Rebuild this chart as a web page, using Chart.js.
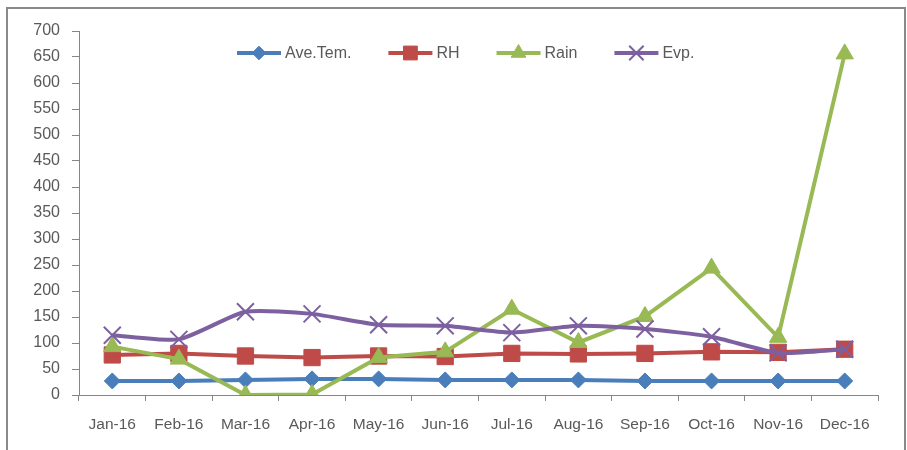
<!DOCTYPE html>
<html>
<head>
<meta charset="utf-8">
<script src="https://cdn.jsdelivr.net/npm/chart.js@4.4.1/dist/chart.umd.min.js"></script>
<style>
html,body{margin:0;padding:0;background:#fff;}
#wrap{position:relative;width:907px;height:450px;}
</style>
</head>
<body>
<div id="wrap"><canvas id="c" width="907" height="450"></canvas></div>
<script>
const categories = ['Jan-16','Feb-16','Mar-16','Apr-16','May-16','Jun-16','Jul-16','Aug-16','Sep-16','Oct-16','Nov-16','Dec-16'];
const aveTem = [27, 27, 29, 31, 31, 29, 29, 29, 27, 27, 27, 27];
const rh     = [77, 80, 75, 72, 75, 74, 80, 79, 80, 83, 82, 88];
const rain   = [93, 69, 0, 1, 72, 83, 165, 101, 151, 244, 111, 656];
const evp    = [115, 107, 160, 156, 135, 133, 120, 133, 127, 112, 81, 88];
const yTicks = [0,50,100,150,200,250,300,350,400,450,500,550,600,650,700];

const TXT = '#595959';
const AXIS = '#868686';
const FONT = 'Liberation Sans';

const series = [
  {label:'Ave.Tem.', data:aveTem, color:'#4A7EBB', style:'rectRot', radius:8, order:4, tension:0, pbw:1},
  {label:'RH', data:rh, color:'#BE4B48', style:'rect', radius:11.5, order:3, tension:0, pbw:1},
  {label:'Rain', data:rain, color:'#98B954', style:'triangle', radius:10, order:2, tension:0, pbw:1},
  {label:'Evp.', data:evp, color:'#7D60A0', style:'crossRot', radius:12, order:1, tension:0.2, pbw:2}
];

const frame = {
  id:'frame',
  beforeDraw(chart){
    const ctx = chart.ctx;
    ctx.save();
    ctx.fillStyle = '#fff';
    ctx.fillRect(0,0,chart.width,chart.height);
    ctx.strokeStyle = '#8a8a8a';
    ctx.lineWidth = 2;
    ctx.strokeRect(7, 8, 898, 470);
    ctx.restore();
  }
};

const drawPoint = Chart.helpers.drawPoint;

const legendPlugin = {
  id:'customLegend',
  afterDraw(chart){
    const ctx = chart.ctx;
    const y = 53;
    let x = 237;
    const lineLen = 44, gapText = 4, gapItem = 37;
    chart.data.datasets.forEach(ds => {
      ctx.save();
      ctx.strokeStyle = ds.borderColor;
      ctx.lineWidth = 4;
      ctx.lineCap = 'butt';
      ctx.beginPath();
      ctx.moveTo(x, y);
      ctx.lineTo(x + lineLen, y);
      ctx.stroke();
      ctx.fillStyle = ds.pointBackgroundColor;
      ctx.strokeStyle = ds.pointBorderColor;
      ctx.lineWidth = ds.pointBorderWidth;
      drawPoint(ctx, {pointStyle: ds.pointStyle, radius: ds.pointRadius * 0.85, rotation: 0, borderWidth: ds.pointBorderWidth}, x + lineLen/2, y);
      ctx.font = '16px "' + FONT + '"';
      ctx.textBaseline = 'middle';
      ctx.textAlign = 'left';
      ctx.fillStyle = TXT;
      ctx.fillText(ds.label, x + lineLen + gapText, y + 1);
      x += lineLen + gapText + ctx.measureText(ds.label).width + gapItem;
      ctx.restore();
    });
  }
};

const datasets = series.map(s => ({
  label: s.label,
  data: s.data,
  borderColor: s.color,
  backgroundColor: s.color,
  pointBackgroundColor: s.color,
  pointBorderColor: s.color,
  pointBorderWidth: s.pbw,
  pointStyle: s.style,
  pointRadius: s.radius,
  pointHoverRadius: s.radius,
  borderWidth: 4,
  tension: s.tension,
  order: s.order,
  fill: false
}));

new Chart(document.getElementById('c'), {
  type: 'line',
  data: { labels: categories, datasets: datasets },
  plugins: [frame, legendPlugin],
  options: {
    responsive: false,
    animation: false,
    devicePixelRatio: 1,
    layout: { padding: { left: 0, top: 31, right: 29, bottom: 0 } },
    plugins: { legend: { display: false }, tooltip: { enabled: false } },
    scales: {
      x: {
        offset: true,
        grid: { display: true, offset: true, drawOnChartArea: false, tickLength: 6, color: AXIS, lineWidth: 1 },
        border: { display: true, color: AXIS, width: 1 },
        ticks: { color: TXT, font: { family: FONT, size: 15.5 }, padding: 14, maxRotation: 0, autoSkip: false },
        afterFit(scale){ scale.height = 55; }
      },
      y: {
        min: 0, max: 700,
        afterBuildTicks(scale){ scale.ticks = yTicks.map(v => ({value: v})); },
        grid: { display: true, drawOnChartArea: false, tickLength: 7, color: AXIS, lineWidth: 1 },
        border: { display: true, color: AXIS, width: 1 },
        ticks: { color: TXT, font: { family: FONT, size: 16 }, padding: 12 },
        afterFit(scale){ scale.width = 79; }
      }
    }
  }
});
</script>
</body>
</html>
